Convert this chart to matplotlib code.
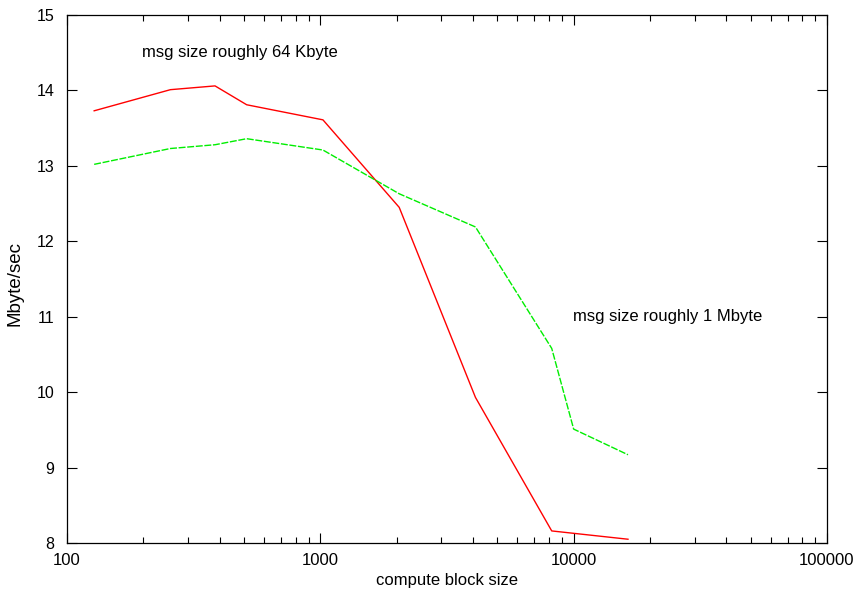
import matplotlib
matplotlib.use("Agg")
import matplotlib.pyplot as plt
from matplotlib.ticker import LogLocator, FixedLocator, NullFormatter

plt.rcParams['font.family'] = ['Liberation Sans', 'DejaVu Sans']

# Throughput vs. compute block size for two message sizes
block_64k = [128, 256, 384, 512, 1024, 2048, 4096, 8192, 16384]
rate_64k = [13.73, 14.01, 14.06, 13.81, 13.61, 12.45, 9.93, 8.16, 8.05]

block_1m = [128, 256, 384, 512, 1024, 2048, 4096, 8192, 10000, 16384]
rate_1m = [13.02, 13.23, 13.28, 13.36, 13.21, 12.63, 12.19, 10.58, 9.51, 9.17]

y_ticks = [8, 9, 10, 11, 12, 13, 14, 15]
x_ticks = [100, 1000, 10000, 100000]
x_tick_labels = ["100", "1000", "10000", "100000"]

fig = plt.figure(figsize=(8.57, 5.95), dpi=100)
ax = fig.add_axes([67 / 857, 1 - 543 / 595, 760 / 857, 528 / 595])

ax.plot(block_64k, rate_64k, color="#ff0000", lw=1.0)
ax.plot(block_1m, rate_1m, color="#00ee00", lw=1.0, linestyle=(0, (5, 1.2)))

ax.set_xscale("log")
ax.set_xlim(100, 100000)
ax.set_ylim(8, 15)
ax.xaxis.set_major_locator(FixedLocator(x_ticks))
ax.set_xticklabels(x_tick_labels)
ax.xaxis.set_minor_locator(LogLocator(base=10, subs=range(2, 10)))
ax.xaxis.set_minor_formatter(NullFormatter())
ax.set_yticks(y_ticks)
ax.set_yticklabels([str(v) for v in y_ticks])

ax.tick_params(axis="both", which="major", direction="in", length=7, width=0.8,
               top=True, right=True, colors="black")
ax.tick_params(axis="x", which="major", pad=7, labelsize=12)
ax.tick_params(axis="y", which="major", pad=9, labelsize=11.5)
ax.tick_params(axis="both", which="minor", direction="in", length=4, width=0.8,
               top=True, right=True)
for s in ax.spines.values():
    s.set_linewidth(0.9)
    s.set_color("black")

ax.set_xlabel("compute block size", fontsize=12, labelpad=4)
ax.set_ylabel("Mbyte/sec", fontsize=13.5)
ax.yaxis.set_label_coords(-43 / 760, (543 - 283) / 528)

ax.text(142 / 857, 1 - 53 / 595, "msg size roughly 64 Kbyte", transform=fig.transFigure,
        fontsize=12, ha="left", va="center")
ax.text(573 / 857, 1 - 317 / 595, "msg size roughly 1 Mbyte", transform=fig.transFigure,
        fontsize=12, ha="left", va="center")

fig.savefig("out.png", dpi=100)
